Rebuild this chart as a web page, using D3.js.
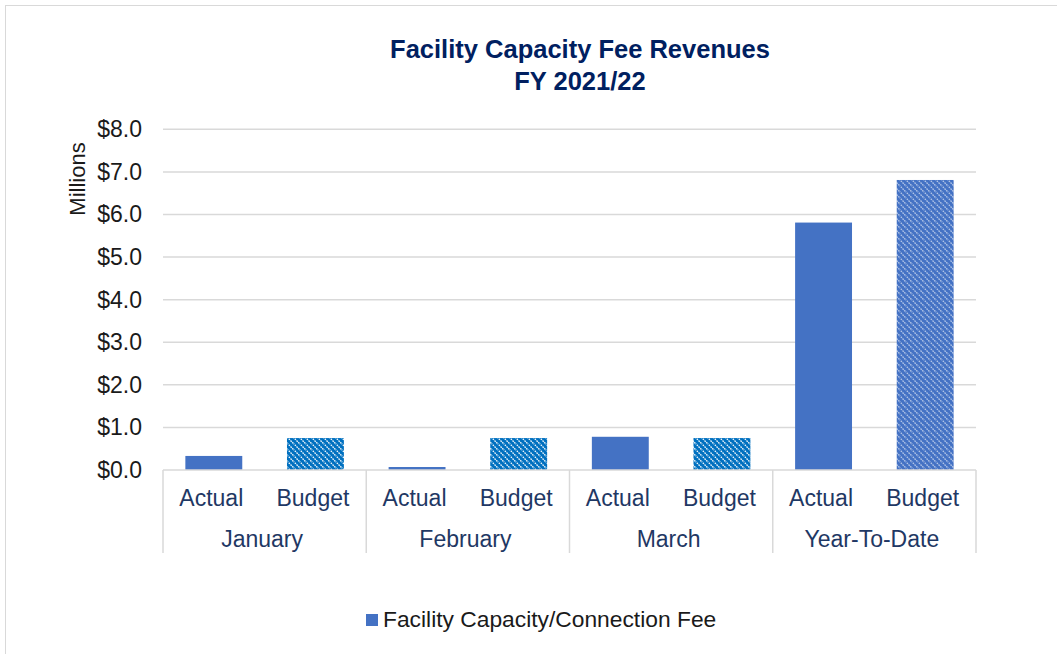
<!DOCTYPE html>
<html>
<head>
    <style>
        body { margin: 0; background: #fff; }
        svg text { font-family: "Liberation Sans", Arial, sans-serif; }
    </style>
    <script src="https://d3js.org/d3.v7.min.js"></script>
</head>
<body>
    <div id="chart"></div>

    <script>
        // Chart data (values in millions of dollars)
        const groups = ["January", "February", "March", "Year-To-Date"];
        const subLabels = ["Actual", "Budget"];
        const actualValues = [0.33, 0.07, 0.78, 5.81];
        const budgetValues = [0.75, 0.75, 0.75, 6.81];
        const yTickValues = [0, 1, 2, 3, 4, 5, 6, 7, 8];
        const titleLines = ["Facility Capacity Fee Revenues", "FY 2021/22"];
        const legendLabel = "Facility Capacity/Connection Fee";

        const W = 1057, H = 654;
        const plot = { left: 163, right: 976, top: 129.3, bottom: 470 };
        const labelShift = -2.5; // category labels sit a touch left of centre

        const svg = d3.select("#chart").append("svg")
            .attr("width", W)
            .attr("height", H);

        // Hatch patterns for the budget bars
        const defs = svg.append("defs");
        function hatch(id, base, lineColor, opacity) {
            const p = defs.append("pattern")
                .attr("id", id)
                .attr("patternUnits", "userSpaceOnUse")
                .attr("width", 6)
                .attr("height", 6);
            p.append("rect").attr("width", 6).attr("height", 6).attr("fill", base);
            p.append("path")
                .attr("d", "M-1,-1 L7,7 M-1,5 L1,7 M5,-1 L7,1")
                .attr("stroke", lineColor)
                .attr("stroke-opacity", opacity)
                .attr("stroke-width", 1.3)
                .attr("stroke-dasharray", "1.6 0.9");
        }
        hatch("hatchMonth", "#0070C0", "#ffffff", 0.95);
        hatch("hatchYtd", "#4472C4", "#ffffff", 0.6);

        // Chart border
        svg.append("rect")
            .attr("x", 5.5).attr("y", 5.5)
            .attr("width", W + 20).attr("height", H + 20)
            .attr("fill", "none")
            .attr("stroke", "#d9d9d9");

        const rows = [];
        groups.forEach((g, i) => {
            rows.push({ group: g, sub: subLabels[0], value: actualValues[i] });
            rows.push({ group: g, sub: subLabels[1], value: budgetValues[i] });
        });

        const x0 = d3.scaleBand()
            .domain(groups)
            .range([plot.left, plot.right])
            .padding(0);

        const x1 = d3.scaleBand()
            .domain(subLabels)
            .range([0, x0.bandwidth()])
            .paddingInner(0.44)
            .paddingOuter(0.22);

        const y = d3.scaleLinear()
            .domain([0, 8])
            .range([plot.bottom, plot.top]);

        // Gridlines
        svg.append("g")
            .selectAll("line")
            .data(yTickValues.filter(d => d > 0))
            .enter()
            .append("line")
            .attr("x1", plot.left).attr("x2", plot.right)
            .attr("y1", d => y(d)).attr("y2", d => y(d))
            .attr("stroke", "#d9d9d9")
            .attr("stroke-width", 1.5);

        // Y axis labels
        const yAxis = d3.axisLeft(y)
            .tickValues(yTickValues)
            .tickSize(0)
            .tickPadding(21)
            .tickFormat(d => "$" + d3.format(".1f")(d));

        const yG = svg.append("g")
            .attr("transform", `translate(${plot.left},0)`)
            .call(yAxis);
        yG.select(".domain").remove();
        yG.selectAll("text")
            .attr("fill", "#1a1a1a")
            .style("font-size", "23px");

        svg.append("text")
            .attr("transform", "rotate(-90)")
            .attr("x", -179)
            .attr("y", 85)
            .attr("text-anchor", "middle")
            .attr("fill", "#1a1a1a")
            .style("font-size", "22px")
            .text("Millions");

        // Bars
        const fillFor = d => {
            if (d.sub === "Actual") return "#4472C4";
            return d.group === "Year-To-Date" ? "url(#hatchYtd)" : "url(#hatchMonth)";
        };

        svg.append("g")
            .selectAll("rect")
            .data(rows)
            .enter()
            .append("rect")
            .attr("class", "bar")
            .attr("x", d => x0(d.group) + x1(d.sub))
            .attr("y", d => y(d.value))
            .attr("width", x1.bandwidth())
            .attr("height", d => y(0) - y(d.value))
            .attr("fill", fillFor);

        // Category axis line and group separators
        svg.append("line")
            .attr("x1", plot.left).attr("x2", plot.right)
            .attr("y1", plot.bottom).attr("y2", plot.bottom)
            .attr("stroke", "#d9d9d9")
            .attr("stroke-width", 1.5);

        const seps = groups.map(g => x0(g)).concat([plot.right]);
        svg.append("g")
            .selectAll("line")
            .data(seps)
            .enter()
            .append("line")
            .attr("x1", d => d).attr("x2", d => d)
            .attr("y1", plot.bottom).attr("y2", 553)
            .attr("stroke", "#d9d9d9")
            .attr("stroke-width", 1.5);

        // Sub labels
        svg.append("g")
            .selectAll("text")
            .data(rows)
            .enter()
            .append("text")
            .attr("x", d => x0(d.group) + x1(d.sub) + x1.bandwidth() / 2 + labelShift)
            .attr("y", 506)
            .attr("text-anchor", "middle")
            .attr("fill", "#1f3864")
            .style("font-size", "23px")
            .text(d => d.sub);

        // Group labels
        svg.append("g")
            .selectAll("text")
            .data(groups)
            .enter()
            .append("text")
            .attr("x", d => x0(d) + x0.bandwidth() / 2 + labelShift)
            .attr("y", 547)
            .attr("text-anchor", "middle")
            .attr("fill", "#1f3864")
            .style("font-size", "23px")
            .text(d => d);

        // Title
        svg.append("g")
            .selectAll("text")
            .data(titleLines)
            .enter()
            .append("text")
            .attr("x", 580)
            .attr("y", (d, i) => 58 + i * 32)
            .attr("text-anchor", "middle")
            .attr("fill", "#002060")
            .style("font-size", "25.5px")
            .style("font-weight", "bold")
            .text(d => d);

        // Legend
        svg.append("rect")
            .attr("x", 366).attr("y", 614)
            .attr("width", 12).attr("height", 12)
            .attr("fill", "#4472C4");
        svg.append("text")
            .attr("x", 383).attr("y", 627)
            .attr("fill", "#1a1a1a")
            .style("font-size", "22.8px")
            .text(legendLabel);
    </script>
</body>
</html>
